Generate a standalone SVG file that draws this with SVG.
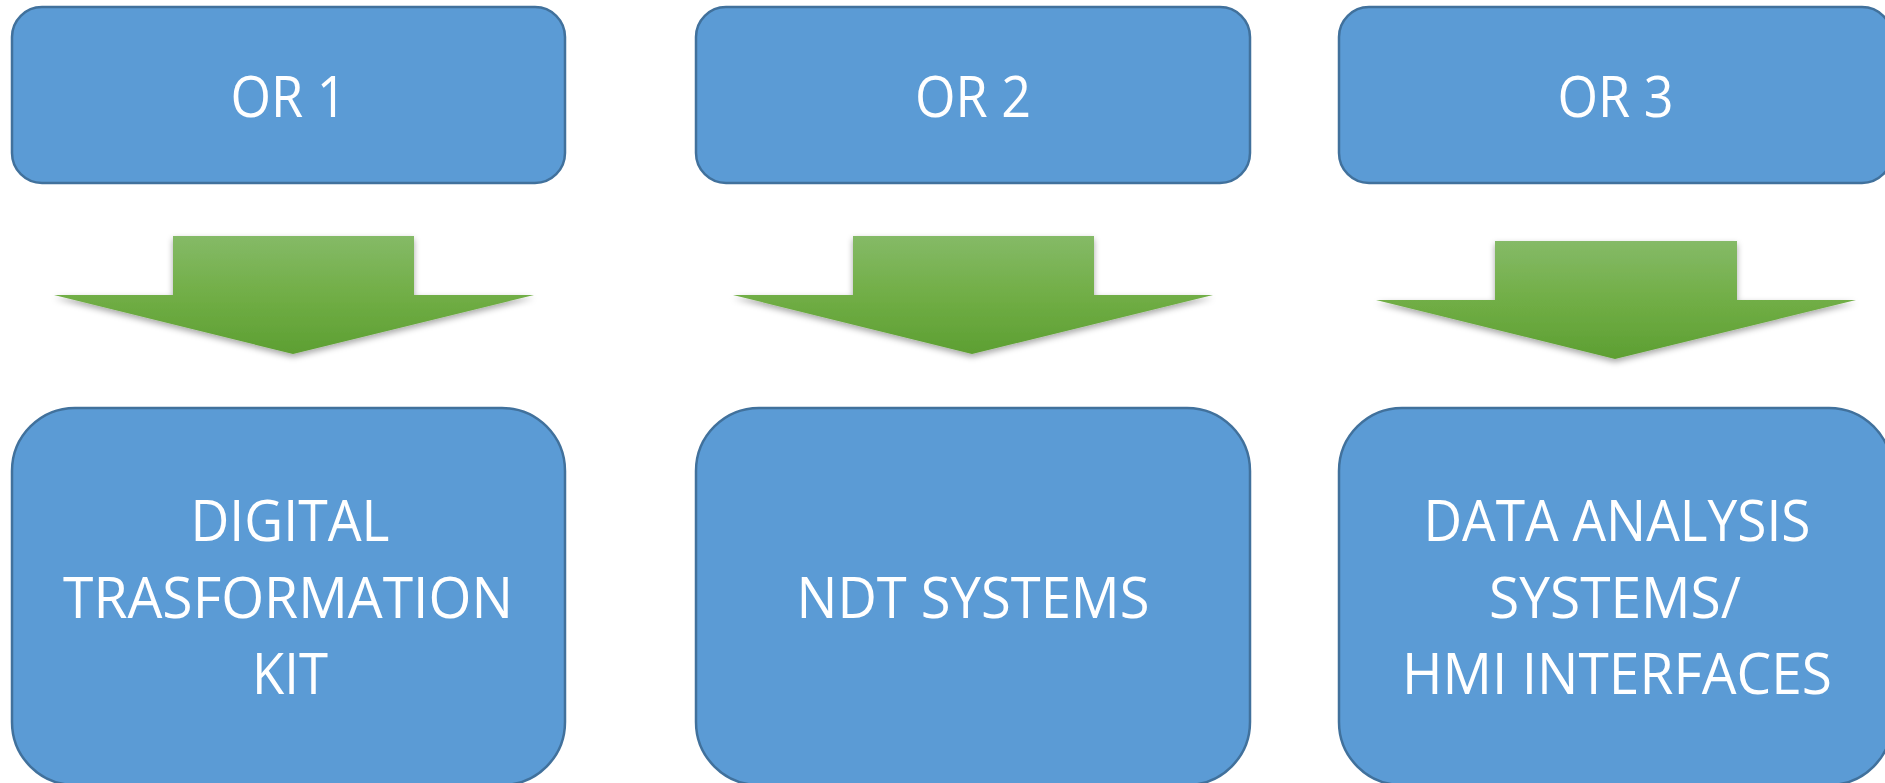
<svg xmlns="http://www.w3.org/2000/svg" width="1885" height="783" viewBox="0 0 1885 783">
  <style>
    .box { fill: #5B9BD5; stroke: #41719C; stroke-width: 2.5; }
    .lbl { font-family: "Open Sans", "Noto Sans", "Liberation Sans", sans-serif; font-size: 56px; fill: #FFFFFF; text-anchor: middle; }
    .arrow { fill: url(#grn); filter: url(#shadow); }
  </style>
  <defs>
    <linearGradient id="grn" x1="0" y1="0" x2="0" y2="1">
      <stop offset="0" stop-color="#85BA67"/>
      <stop offset="0.5" stop-color="#71AE46"/>
      <stop offset="1" stop-color="#5D9F32"/>
    </linearGradient>
    <filter id="shadow" x="-10%" y="-20%" width="120%" height="150%">
      <feDropShadow dx="0" dy="3" stdDeviation="3" flood-color="#000000" flood-opacity="0.35"/>
    </filter>
  </defs>

  <g id="or1">
    <rect class="box" x="12" y="7" width="553" height="176" rx="30"/>
    <text class="lbl" x="288.5" y="117" textLength="116" lengthAdjust="spacingAndGlyphs">OR 1</text>
  </g>
  <g id="or2">
    <rect class="box" x="696" y="7" width="554" height="176" rx="30"/>
    <text class="lbl" x="973" y="117" textLength="116" lengthAdjust="spacingAndGlyphs">OR 2</text>
  </g>
  <g id="or3">
    <rect class="box" x="1339" y="7" width="553" height="176" rx="30"/>
    <text class="lbl" x="1615.5" y="117" textLength="116" lengthAdjust="spacingAndGlyphs">OR 3</text>
  </g>

  <g id="connectors">
    <path class="arrow" d="M173,236 H414 V295 H534 L293,354 L54,295 H173 Z"/>
    <path class="arrow" d="M853,236 H1094 V295 H1213 L972,354 L733,295 H853 Z"/>
    <path class="arrow" d="M1495,241 H1737 V300 H1856 L1615,359 L1376,300 H1495 Z"/>
  </g>

  <g id="kit">
    <rect class="box" x="12" y="408" width="553" height="377" rx="63"/>
    <text class="lbl" x="290" y="541" textLength="199" lengthAdjust="spacingAndGlyphs">DIGITAL</text>
    <text class="lbl" x="288" y="618" textLength="450" lengthAdjust="spacingAndGlyphs">TRASFORMATION</text>
    <text class="lbl" x="290" y="694" textLength="76" lengthAdjust="spacingAndGlyphs">KIT</text>
  </g>
  <g id="ndt">
    <rect class="box" x="696" y="408" width="554" height="377" rx="63"/>
    <text class="lbl" x="973" y="618" textLength="353" lengthAdjust="spacingAndGlyphs">NDT SYSTEMS</text>
  </g>
  <g id="data">
    <rect class="box" x="1339" y="408" width="553" height="377" rx="63"/>
    <text class="lbl" x="1617" y="541" textLength="387" lengthAdjust="spacingAndGlyphs">DATA ANALYSIS</text>
    <text class="lbl" x="1615" y="618" textLength="252" lengthAdjust="spacingAndGlyphs">SYSTEMS/</text>
    <text class="lbl" x="1617" y="694" textLength="430" lengthAdjust="spacingAndGlyphs">HMI INTERFACES</text>
  </g>
</svg>
